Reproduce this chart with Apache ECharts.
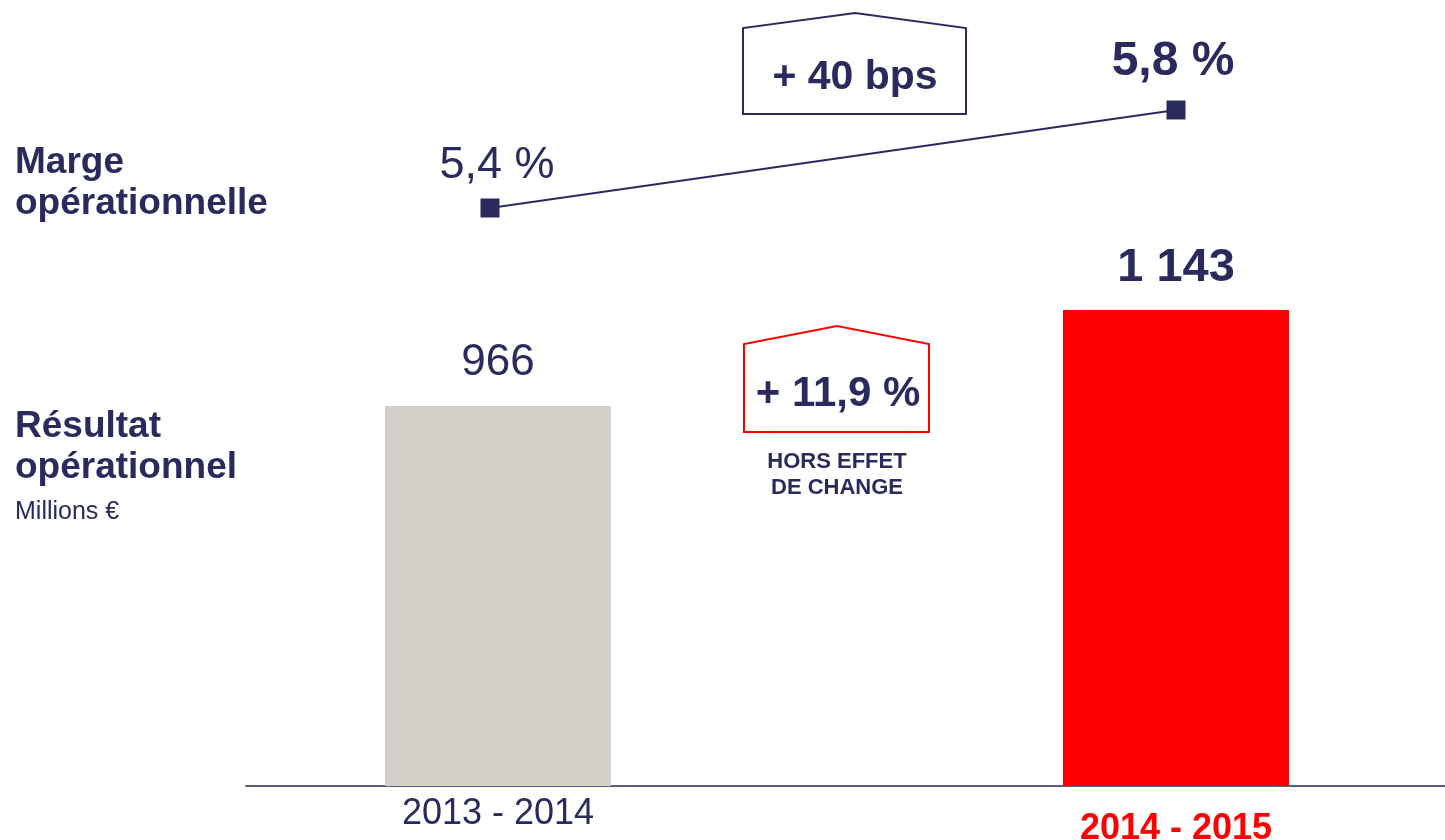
<!DOCTYPE html>
<html>
<head>
<meta charset="utf-8">
<script src="https://cdn.jsdelivr.net/npm/echarts@6/dist/echarts.min.js"></script>
<style>
  html, body { margin: 0; padding: 0; background: #ffffff; }
  #chart { width: 1445px; height: 840px; }
</style>
</head>
<body>
<div id="chart"></div>
<script>
// ---- Data ----
const categories = ['2013 - 2014', '2014 - 2015'];
const resultatOperationnel = [966, 1143];      // Millions €
const margeOperationnelle = [5.4, 5.8];        // %
const barAxisMin = 265;                        // the bar axis does not start at zero in the source
const barAxisMax = 1143;
const margeAxisMin = 5.4;
const margeAxisMax = 5.8;
const labelMarge = 'Marge\nopérationnelle';
const labelResultat = 'Résultat\nopérationnel';
const labelUnit = 'Millions €';
const deltaMarge = '+ 40 bps';
const deltaResultat = '+ 11,9 %';
const deltaNote = 'HORS EFFET\nDE CHANGE';

// ---- Styles ----
const NAVY = '#2b2a5e';
const RED = '#ff0000';
const GREY = '#d3d0c9';
const FONT = '"Liberation Sans", Arial, Helvetica, sans-serif';

function fmtInt(v) { return String(v).replace(/\B(?=(\d{3})+(?!\d))/g, ' '); }
function fmtPct(v) { return v.toFixed(1).replace('.', ',') + ' %'; }

const chart = echarts.init(document.getElementById('chart'), null, { renderer: 'canvas' });

const option = {
  backgroundColor: '#ffffff',
  animation: false,
  textStyle: { fontFamily: FONT },
  grid: [
    { left: 159, width: 1356, top: 310, bottom: 54, outerBoundsMode: 'none', containLabel: false },   // bars
    { left: 147, width: 1372, top: 110, height: 98, outerBoundsMode: 'none', containLabel: false },   // margin line
    { left: 246, right: 0, top: 310, bottom: 54, outerBoundsMode: 'none', containLabel: false }       // baseline
  ],
  xAxis: [
    {
      gridIndex: 0, type: 'category', data: categories,
      axisLine: { show: false }, axisTick: { show: false },
      axisLabel: {
        interval: 0, margin: 10,
        formatter: (v, i) => (i === 1 ? '{b|' + v + '}' : '{a|' + v + '}'),
        rich: {
          a: { fontSize: 36, color: NAVY, fontFamily: FONT, lineHeight: 36 },
          b: { fontSize: 36, color: RED, fontWeight: 'bold', fontFamily: FONT, lineHeight: 66 }
        }
      }
    },
    { gridIndex: 1, type: 'category', data: categories, show: false },
    {
      gridIndex: 2, type: 'value', min: 0, max: 1,
      axisLine: { show: true, lineStyle: { color: '#5c5c8c', width: 2 } },
      axisTick: { show: false }, axisLabel: { show: false }, splitLine: { show: false }
    }
  ],
  yAxis: [
    { gridIndex: 0, type: 'value', min: barAxisMin, max: barAxisMax, show: false, splitLine: { show: false } },
    { gridIndex: 1, type: 'value', min: margeAxisMin, max: margeAxisMax, show: false, splitLine: { show: false } },
    { gridIndex: 2, type: 'value', min: 0, max: 1, show: false, splitLine: { show: false } }
  ],
  series: [
    {
      type: 'bar', xAxisIndex: 0, yAxisIndex: 0, barWidth: 226,
      data: resultatOperationnel.map((v, i) => ({
        value: v,
        itemStyle: { color: i === 1 ? RED : GREY },
        label: {
          show: true, position: 'top', distance: i === 1 ? 18 : 21,
          formatter: (p) => fmtInt(p.value),
          fontSize: i === 1 ? 47 : 44,
          fontWeight: i === 1 ? 'bold' : 'normal',
          color: NAVY, fontFamily: FONT
        }
      }))
    },
    {
      type: 'line', xAxisIndex: 1, yAxisIndex: 1,
      symbol: 'rect', symbolSize: 19,
      lineStyle: { color: NAVY, width: 2 },
      itemStyle: { color: NAVY },
      data: margeOperationnelle.map((v, i) => ({
        value: v,
        label: {
          show: true, position: 'top',
          distance: i === 1 ? 15 : 10,
          offset: i === 1 ? [-3, 0] : [7, 0],
          formatter: (p) => fmtPct(p.value),
          fontSize: i === 1 ? 48 : 45,
          fontWeight: i === 1 ? 'bold' : 'normal',
          color: NAVY, fontFamily: FONT
        }
      }))
    }
  ],
  graphic: [
    {
      type: 'text', left: 15, top: 142,
      style: { text: labelMarge, font: 'bold 37px ' + FONT, fill: NAVY, lineHeight: 41 }
    },
    {
      type: 'text', left: 15, top: 406,
      style: { text: labelResultat, font: 'bold 37px ' + FONT, fill: NAVY, lineHeight: 41 }
    },
    {
      type: 'text', left: 15, top: 500,
      style: { text: labelUnit, font: '25px ' + FONT, fill: NAVY }
    },
    {
      type: 'polygon',
      shape: { points: [[743, 114], [743, 28], [855, 13], [966, 28], [966, 114]] },
      style: { fill: 'none', stroke: NAVY, lineWidth: 2 }
    },
    {
      type: 'text', x: 855, y: 78,
      style: { text: deltaMarge, font: 'bold 41px ' + FONT, fill: NAVY, align: 'center', verticalAlign: 'middle' }
    },
    {
      type: 'polygon',
      shape: { points: [[744, 432], [744, 344], [837, 326], [929, 344], [929, 432]] },
      style: { fill: 'none', stroke: RED, lineWidth: 2 }
    },
    {
      type: 'text', x: 838, y: 394,
      style: { text: deltaResultat, font: 'bold 42px ' + FONT, fill: NAVY, align: 'center', verticalAlign: 'middle' }
    },
    {
      type: 'text', x: 837, y: 475,
      style: { text: deltaNote, font: 'bold 22px ' + FONT, fill: NAVY, align: 'center', verticalAlign: 'middle', lineHeight: 26 }
    }
  ]
};

chart.setOption(option);
</script>
</body>
</html>
